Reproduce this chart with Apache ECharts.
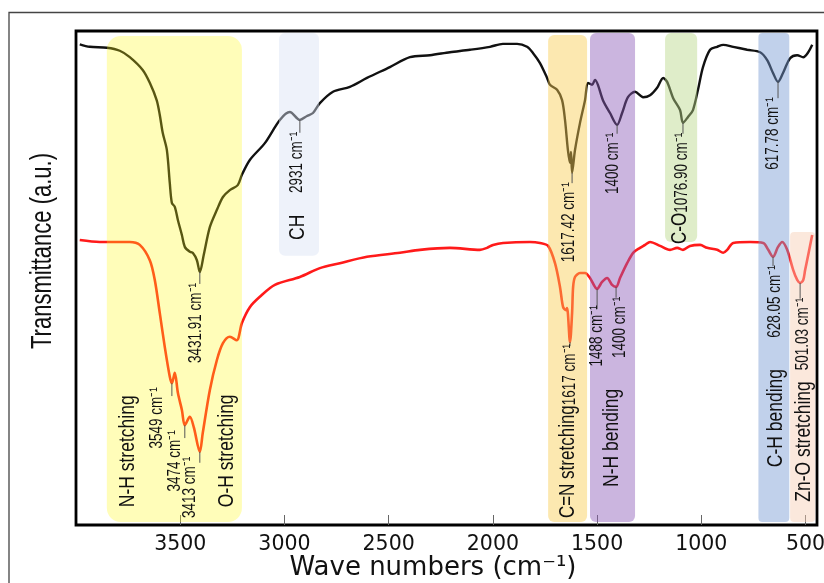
<!DOCTYPE html>
<html>
<head>
<meta charset="utf-8">
<script src="https://cdn.jsdelivr.net/npm/echarts@6/dist/echarts.min.js"></script>
<style>html,body{margin:0;padding:0;background:#fff;}#c{width:824px;height:583px;}</style>
</head>
<body>
<div id="c"></div>
<script>
// Tick labels on the wavenumber axis
const xTicks = [3500, 3000, 2500, 2000, 1500, 1000, 500];

// Upper (black) spectrum: [wavenumber cm-1, transmittance a.u.]
const blackSpectrum = [
  [3982,97.3],[3934,96.8],[3852,96.6],[3790,96.0],[3742,94.7],[3680,92.1],[3646,89.5],[3613,86.0],
  [3598,83.0],[3584,79.4],[3564,75.9],[3550,69.2],[3540,65.2],[3526,64.4],[3511,61.7],[3492,58.7],
  [3478,56.3],[3454,55.3],[3440,55.1],[3420,53.6],[3406,51.2],[3387,54.7],[3358,60.3],[3324,63.8],
  [3295,66.4],[3262,67.8],[3224,68.8],[3204,70.9],[3166,73.9],[3094,77.3],[3022,82.0],[2974,83.6],
  [2926,82.0],[2892,82.8],[2863,83.4],[2830,85.4],[2767,87.7],[2686,88.7],[2604,90.5],[2494,92.7],
  [2398,94.7],[2302,95.1],[2206,95.7],[2110,96.2],[2014,96.8],[1952,97.4],[1884,97.4],[1836,96.8],
  [1807,95.5],[1774,93.5],[1740,90.5],[1726,89.1],[1692,88.1],[1668,86.0],[1654,82.0],[1640,75.9],
  [1630,73.3],[1625,75.5],[1620,71.3],[1606,75.9],[1582,81.4],[1558,86.0],[1544,89.5],[1524,89.1],
  [1510,90.1],[1496,89.1],[1472,86.0],[1438,83.4],[1404,81.0],[1380,83.4],[1352,86.6],[1318,87.7],
  [1279,86.6],[1246,87.0],[1212,88.5],[1183,90.5],[1164,89.7],[1135,86.4],[1102,84.0],[1088,81.4],
  [1064,82.6],[1040,84.0],[1016,88.1],[992,92.7],[958,96.2],[924,96.8],[895,97.2],[847,96.8],
  [780,96.2],[718,95.7],[684,94.1],[656,91.5],[632,89.7],[608,91.5],[574,94.5],[540,95.1],
  [511,94.7],[487,95.7],[468,97.2]
];

// Lower (red) spectrum: [wavenumber cm-1, transmittance a.u.]
const redSpectrum = [
  [3982,57.7],[3886,57.3],[3742,57.3],[3694,56.7],[3646,53.6],[3622,49.6],[3598,42.9],[3574,36.0],
  [3550,30.0],[3540,28.7],[3526,30.8],[3511,26.7],[3492,23.3],[3478,20.2],[3454,21.9],[3435,19.8],
  [3406,14.8],[3392,18.6],[3358,27.3],[3324,33.4],[3295,36.8],[3262,38.1],[3229,37.4],[3204,40.9],
  [3166,44.1],[3118,46.2],[3046,48.6],[2926,50.2],[2830,52.0],[2734,53.0],[2604,54.3],[2446,55.1],
  [2350,55.7],[2206,56.1],[2062,55.7],[2028,56.1],[1999,56.7],[1951,57.1],[1822,57.3],[1774,57.1],
  [1735,56.5],[1702,53.0],[1678,48.2],[1663,44.1],[1649,43.5],[1644,43.9],[1630,37.0],[1620,42.9],
  [1615,48.2],[1606,50.2],[1582,51.0],[1558,51.0],[1534,50.0],[1500,47.8],[1476,49.2],[1452,50.0],
  [1428,48.6],[1409,48.2],[1390,50.0],[1356,53.0],[1327,55.1],[1294,56.1],[1270,56.7],[1246,57.3],
  [1198,56.5],[1150,55.7],[1116,56.1],[1088,55.7],[1054,56.5],[1006,56.7],[972,56.1],[924,55.7],
  [895,55.1],[876,55.7],[847,57.1],[766,57.3],[703,57.1],[679,55.7],[656,54.3],[632,56.3],
  [612,57.3],[588,55.7],[559,51.6],[540,49.6],[526,49.0],[511,49.6],[502,51.6],[487,54.7],[468,58.7]
];

// Highlighted regions: [from wn, to wn, top T, bottom T]
const bandRanges = [
  [3852, 3204, 99.0, 0.6],
  [3026, 2834, 99.6, 54.5],
  [1735, 1548, 99.2, 0.6],
  [1534, 1318, 99.6, 0.6],
  [1174, 1020, 99.6, 57.3],
  [726, 578, 99.6, 0.6],
  [574, 454, 59.3, 0.6]
];
const bandColors = ['#fff816', '#dae3f4', '#f9cc50', '#8c5bb8', '#b8d888', '#7699d3', '#f7ccb2'];
const bandOpacity = [0.3, 0.45, 0.45, 0.45, 0.45, 0.45, 0.45];
const bandRadius = [14, 6, 6, 6, 6, 4, 4];

// Assignment texts (read bottom to top), anchored at their lower end: [text, wn, T]
const groupLabels = [
  ['N-H stretching', 3752, 3.6],
  ['O-H stretching', 3276, 3.6],
  ['CH', 2935, 57.7],
  ['N-H bending', 1428, 7.7],
  ['C-H bending', 645, 11.7],
  ['Zn-O stretching', 511, 4.7]
];

// Peak labels, anchored at their upper end: [text, text wn, text top T, peak wn, peak T, leader end T]
const peakLabels = [
  ['{n|3431.91 cm⁻¹}', 3425, 49.0, 3406, 51.2, 49.0],
  ['{n|2931 cm⁻¹}', 2940, 79.6, 2926, 82.0, 79.6],
  ['{n|1617.42 cm⁻¹}', 1635, 69.4, 1620, 71.3, 69.4],
  ['{n|1400 cm⁻¹}', 1423, 79.4, 1404, 81.0, 79.4],
  ['{b|C-O}{n|1076.90 cm⁻¹}', 1101, 79.4, 1088, 81.4, 79.4],
  ['{n|617.78 cm⁻¹}', 654, 86.6, 632, 89.7, 86.6],
  ['{n|3549 cm⁻¹}', 3612, 27.9, 3540, 28.7, 26.3],
  ['{n|3474 cm⁻¹}', 3525, 19.2, 3478, 20.2, 17.8],
  ['{n|3413 cm⁻¹}', 3453, 13.8, 3406, 14.8, 12.8],
  ['{n|1488 cm⁻¹}', 1500, 44.5, 1500, 47.8, 43.9],
  ['{n|1400 cm⁻¹}', 1388, 46.2, 1409, 48.2, 46.2],
  ['{b|C=N stretching}{n|1617 cm⁻¹}', 1638, 36.4, 1630, 37.0, 36.4],
  ['{n|628.05 cm⁻¹}', 645, 52.6, 656, 54.3, 52.6],
  ['{n|501.03 cm⁻¹}', 511, 46.0, 526, 49.0, 46.0]
];

const labelFont = "'Liberation Sans', Arial, sans-serif";
const richStyles = {
  b: { fontSize: 17, fontFamily: labelFont, fill: '#111', verticalAlign: 'bottom' },
  n: { fontSize: 13.5, fontFamily: labelFont, fill: '#111', verticalAlign: 'bottom' }
};
const textStretch = 1.3;

const chart = echarts.init(document.getElementById('c'), null, { renderer: 'canvas' });

chart.setOption({
  animation: false,
  backgroundColor: '#fff',
  grid: { left: 76, right: 7, top: 31, bottom: 58, containLabel: false, outerBoundsMode: 'none',
    show: true, borderColor: '#000', borderWidth: 2.8, backgroundColor: 'transparent' },
  xAxis: {
    type: 'value', min: 445, max: 4000, inverse: true,
    axisLine: { show: false },
    splitLine: { show: false },
    axisTick: { show: true, inside: true, length: 10, customValues: xTicks, lineStyle: { color: '#666', width: 1 } },
    axisLabel: { customValues: xTicks, margin: 9, fontSize: 20.5, fontFamily: "'DejaVu Sans', sans-serif", color: '#111',
      formatter: function (v) { return String(v); } }
  },
  yAxis: {
    type: 'value', min: 0, max: 100,
    axisLine: { show: false }, axisTick: { show: false }, axisLabel: { show: false }, splitLine: { show: false }
  },
  graphic: [
    { type: 'rect', shape: { x: 9, y: 12.5, width: 830, height: 600 }, style: { fill: 'none', stroke: '#444', lineWidth: 1.3 }, silent: true },
    { type: 'text', x: 43, y: 251, rotation: Math.PI / 2, scaleY: textStretch, style: { text: 'Transmittance (a.u.)', font: "22px 'Liberation Sans', Arial, sans-serif", fill: '#111', align: 'center', verticalAlign: 'middle' }, silent: true },
    { type: 'text', x: 433, y: 581, style: { text: 'Wave numbers (cm⁻¹)', font: "26px 'DejaVu Sans', sans-serif", fill: '#111', align: 'center', verticalAlign: 'bottom' }, silent: true }
  ],
  series: [
    { type: 'line', data: blackSpectrum, showSymbol: false, symbol: 'none', smooth: 0.3, z: 2,
      lineStyle: { color: '#111', width: 2.4 }, silent: true },
    { type: 'line', data: redSpectrum, showSymbol: false, symbol: 'none', smooth: 0.3, z: 2,
      lineStyle: { color: '#ff1a1a', width: 2.6 }, silent: true },
    { type: 'custom', z: 3, silent: true, data: bandRanges,
      renderItem: function (params, api) {
        const i = params.dataIndex;
        const p1 = api.coord([api.value(0), api.value(2)]);
        const p2 = api.coord([api.value(1), api.value(3)]);
        return { type: 'rect',
          shape: { x: Math.min(p1[0], p2[0]), y: Math.min(p1[1], p2[1]), width: Math.abs(p2[0] - p1[0]), height: Math.abs(p2[1] - p1[1]), r: bandRadius[i] },
          style: { fill: bandColors[i], opacity: bandOpacity[i] } };
      }
    },
    { type: 'custom', z: 4, silent: true, data: groupLabels.map(g => [g[1], g[2]]),
      renderItem: function (params, api) {
        const g = groupLabels[params.dataIndex];
        const p = api.coord([api.value(0), api.value(1)]);
        return { type: 'text', x: p[0], y: p[1], rotation: Math.PI / 2, scaleY: textStretch,
          style: { text: g[0], font: "17.5px " + labelFont, fill: '#111', align: 'left', verticalAlign: 'middle' } };
      }
    },
    { type: 'custom', z: 4, silent: true, data: peakLabels.map(l => [l[1], l[2]]),
      renderItem: function (params, api) {
        const l = peakLabels[params.dataIndex];
        const p = api.coord([api.value(0), api.value(1)]);
        const pk = api.coord([l[3], l[4]]);
        const le = api.coord([l[3], l[5]]);
        const anchorBottom = l[0].indexOf('stretching') >= 0;
        return { type: 'group', children: [
          { type: 'line', shape: { x1: pk[0], y1: pk[1], x2: le[0], y2: le[1] + 1 }, style: { stroke: '#555', lineWidth: 1 } },
          { type: 'text', x: p[0], y: anchorBottom ? api.coord([l[1], 1.4])[1] : p[1], rotation: Math.PI / 2, scaleY: textStretch,
            style: { text: l[0], rich: richStyles, fill: '#111', font: "13.5px " + labelFont, align: anchorBottom ? 'left' : 'right', verticalAlign: 'middle' } }
        ] };
      }
    }
  ]
});
</script>
</body>
</html>
